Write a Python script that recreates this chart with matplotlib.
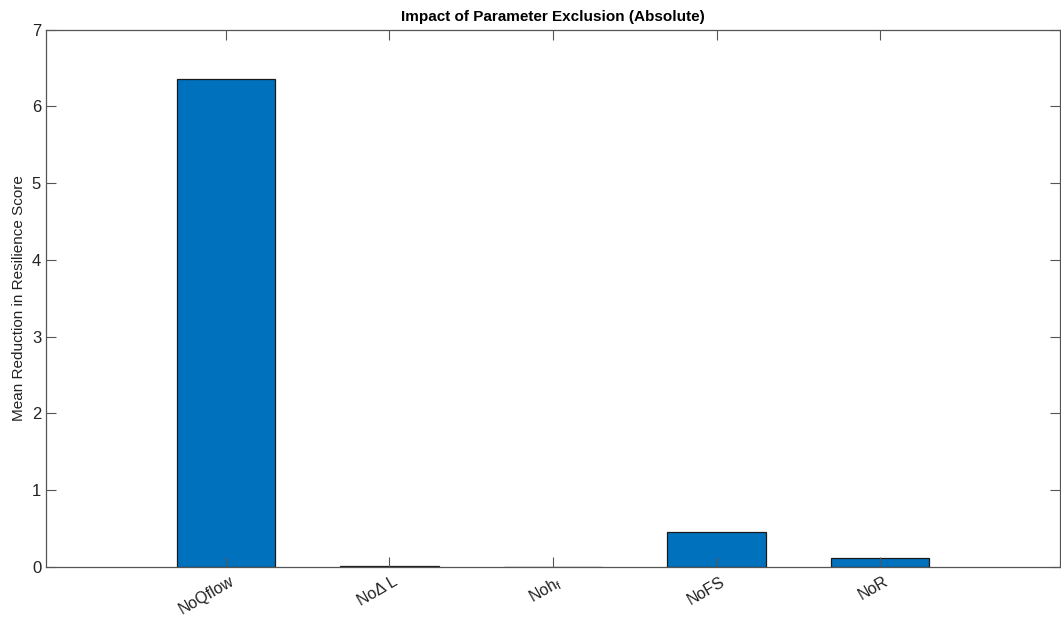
import matplotlib
matplotlib.use("Agg")
import matplotlib.pyplot as plt
import numpy as np
from matplotlib.transforms import ScaledTranslation

# mean reduction in score when each parameter is excluded
labels = ["NoQflow", "No\u0394 L", r"Noh$_\mathrm{f}$", "NoFS", "NoR"]
reduction = [6.354, 0.012, 0.0, 0.452, 0.121]

plt.rcParams['font.family'] = ['Liberation Sans', 'DejaVu Sans']
plt.rcParams['mathtext.fontset'] = 'custom'
plt.rcParams['mathtext.rm'] = 'Liberation Sans'
plt.rcParams['mathtext.it'] = 'Liberation Sans'

fig = plt.figure(figsize=(10.61, 6.18), dpi=100)
ax = fig.add_axes([46 / 1061, 1 - 567 / 618, (1060 - 46) / 1061, (567 - 29.5) / 618])

x = np.arange(1, len(labels) + 1)
ax.bar(x, reduction, width=0.6, color='#0072BD', edgecolor='#1a1a1a', linewidth=0.9, zorder=1)

ax.set_xlim(-0.1, 6.1)
ax.set_ylim(0, 7)
ax.set_xticks(x)
ax.set_xticklabels(labels, rotation=30, ha='right', rotation_mode='anchor',
                   fontsize=11.5, color='#222222')
ax.set_yticks(range(0, 8))
ax.tick_params(axis='y', labelsize=12, colors='#222222')
ax.tick_params(axis='x', pad=5)
ax.tick_params(direction='in', length=7, width=0.8, top=True, right=True, color='#555555')

# shift the rotated labels so their ends sit just past the tick
offset = ScaledTranslation(3 / 100, 0, fig.dpi_scale_trans)
for lbl in ax.get_xticklabels():
    lbl.set_transform(lbl.get_transform() + offset)

for s in ax.spines.values():
    s.set_color('#555555')
    s.set_linewidth(0.9)
    s.set_zorder(3)

ax.set_ylabel('Mean Reduction in Resilience Score', fontsize=11, color='#222222')
ax.set_title('Impact of Parameter Exclusion (Absolute)', fontsize=11, fontweight='bold', pad=6)

fig.savefig('out.png', dpi=100)
